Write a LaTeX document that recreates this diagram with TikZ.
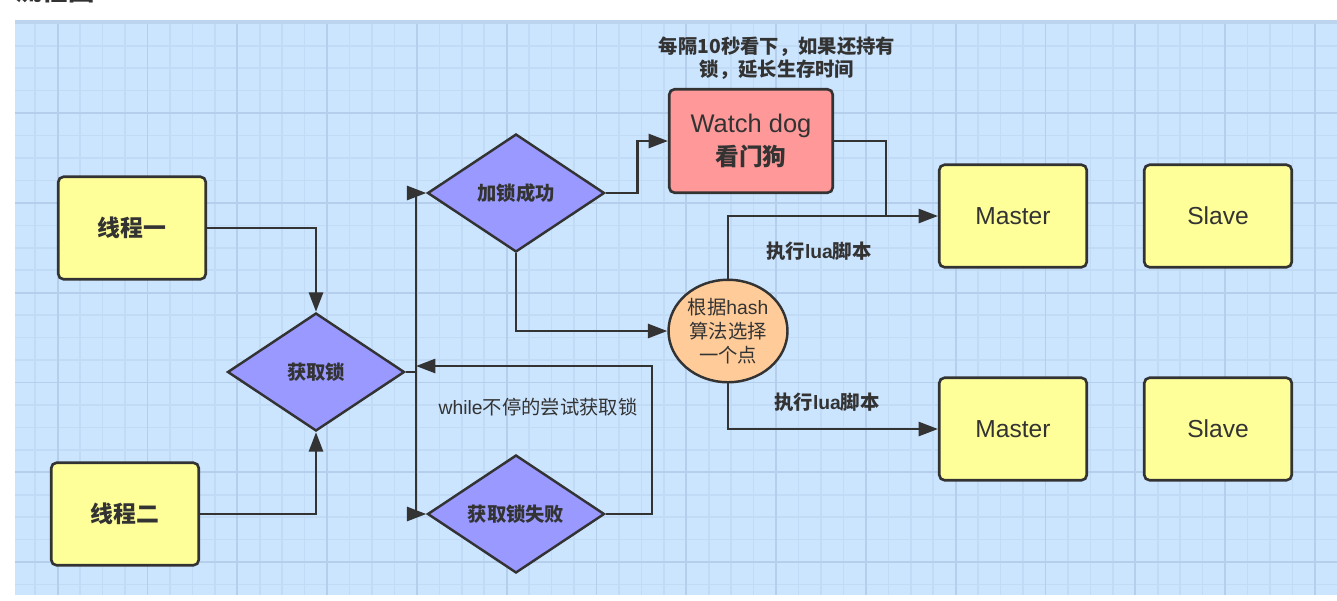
\documentclass[tikz,border=0pt]{standalone}
\usepackage{fontspec}
\setmainfont{Liberation Sans}
\newfontfamily\cjk{Noto Sans CJK SC}
\usetikzlibrary{shapes.geometric, arrows.meta}

\definecolor{bgblue}{HTML}{CCE5FF}
\definecolor{bandblue}{HTML}{BCD4EE}
\definecolor{minorblue}{HTML}{C1DAF5}
\definecolor{majorblue}{HTML}{B4CEEB}
\definecolor{linegray}{HTML}{333333}
\definecolor{boxyellow}{HTML}{FFFF99}
\definecolor{dogred}{HTML}{FF9999}
\definecolor{choicepurple}{HTML}{9999FF}
\definecolor{hashorange}{HTML}{FFCC99}

\begin{document}
\begin{tikzpicture}[x=0.02cm, y=-0.02cm,
    line/.style={draw=linegray, line width=1.4pt},
    arr/.style={line, -{Triangle[length=11pt, width=8pt]}},
    box/.style={draw=linegray, line width=1.5pt, fill=boxyellow, rounded corners=3pt,
        minimum width=2.95cm, minimum height=2.05cm, text=linegray},
    thread/.style={box, font=\cjk\bfseries\fontsize{13}{15}\selectfont},
    redis/.style={box, font=\fontsize{14}{16}\selectfont},
    choice/.style={diamond, draw=linegray, line width=1.4pt, fill=choicepurple,
        minimum width=3.54cm, minimum height=2.36cm, inner sep=0pt, text=linegray,
        font=\cjk\bfseries\fontsize{11}{13}\selectfont},
    note/.style={text=linegray, align=center, font=\fontsize{11}{13}\selectfont}]

    \useasboundingbox (0,0) rectangle (1337,600);
    \fill[white] (0,0) rectangle (1337,600);

    % grid paper
    \fill[bgblue] (15,20) rectangle (1337,595);
    \begin{scope}
        \clip (15,20) rectangle (1337,595);
        \foreach \k in {0,...,58}
            \draw[minorblue, line width=0.9pt] ({35.25+22.45*\k},20) -- ++(0,575);
        \foreach \k in {0,...,25}
            \draw[minorblue, line width=0.9pt] (15,{23.3+22.45*\k}) -- ++(1322,0);
        \foreach \k in {0,...,14}
            \draw[majorblue, line width=1.1pt] ({57.7+89.8*\k},20) -- ++(0,575);
        \foreach \k in {0,...,6}
            \draw[majorblue, line width=1.1pt] (15,{23.3+89.8*\k}) -- ++(1322,0);
    \end{scope}
    \fill[bandblue] (15,20) rectangle (1337,24);

    \node[anchor=base west, inner sep=0pt, text=linegray,
        font=\cjk\bfseries\fontsize{15}{18}\selectfont] (title) at (15,0.5) {流程图};

    % nodes
    \node[thread] (t1) at (132,228) {线程一};
    \node[thread] (t2) at (125,514) {线程二};

    \node[choice] (get) at (316,372) {获取锁};
    \node[choice] (ok) at (516,193) {加锁成功};
    \node[choice] (fail) at (516,514) {获取锁失败};

    \node[box, fill=dogred, minimum width=3.27cm, minimum height=2.07cm, align=center,
        font=\fontsize{14.5}{19}\selectfont] (dog) at (751,141)
        {Watch dog\\{\cjk\bfseries\fontsize{13.5}{15}\selectfont 看门狗}};
    \node[note, font=\cjk\bfseries\fontsize{11}{13}\selectfont] (dognote) at (777,58)
        {每隔10秒看下，如果还持有\\锁，延长生存时间};

    \node[ellipse, draw=linegray, line width=1.4pt, fill=hashorange,
        minimum width=2.38cm, minimum height=2.05cm, inner sep=0pt, text=linegray,
        align=center, font=\fontsize{11}{13.6}\selectfont] (hash) at (728,331)
        {{\cjk 根据}hash\\{\cjk 算法选择}\\{\cjk 一个点}};

    \node[redis] (m1) at (1013,216) {Master};
    \node[redis] (s1) at (1218,216) {Slave};
    \node[redis] (m2) at (1013,429) {Master};
    \node[redis] (s2) at (1218,429) {Slave};

    \coordinate (split) at (416,372);
    \coordinate (loop) at (652,366);
    \coordinate (retry) at (416,366);
    \coordinate (join) at (886,216);

    % connectors
    \draw[arr] (t1.east) -| (get.north);
    \draw[arr] (t2.east) -| (get.south);
    \draw[line] (get.east) -- (split);
    \draw[arr] (split) |- (ok.west);
    \draw[arr] (split) |- (fail.west);
    \draw[arr] (fail.east) -| (loop) -- (retry);
    \draw[arr] (ok.east) -- ++(32,0) |- (dog.west);
    \draw[arr] (ok.south) |- (hash.west);
    \draw[line] (dog.east) -| (join);
    \draw[arr] (hash.north) |- (m1.west);
    \draw[arr] (hash.south) |- (m2.west);

    % labels
    \node[note, font=\cjk\fontsize{11}{13}\selectfont] (whilelbl) at (538,407)
        {{\fontspec{Liberation Sans}while}不停的尝试获取锁};
    \node[note, font=\bfseries\fontsize{11}{13}\selectfont] (lua1) at (819,251)
        {{\cjk 执行}lua{\cjk 脚本}};
    \node[note, font=\bfseries\fontsize{11}{13}\selectfont] (lua2) at (827,402)
        {{\cjk 执行}lua{\cjk 脚本}};
\end{tikzpicture}
\end{document}
